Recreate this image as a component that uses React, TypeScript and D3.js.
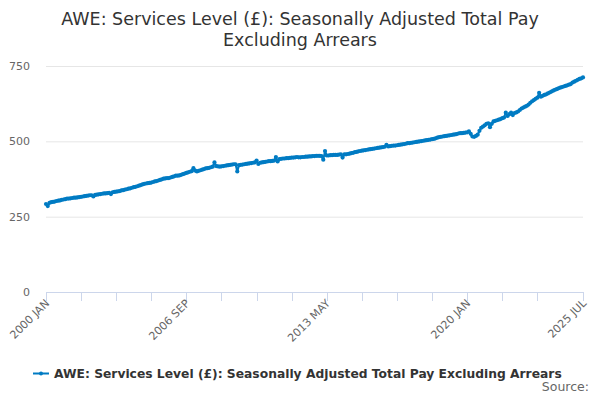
import { useEffect, useRef } from "react";
import * as d3 from "d3";

const TITLE_LINES = [
  "AWE: Services Level (£): Seasonally Adjusted Total Pay",
  "Excluding Arrears",
];
const SERIES_NAME = "AWE: Services Level (£): Seasonally Adjusted Total Pay Excluding Arrears";

const MONTHS = ["JAN", "FEB", "MAR", "APR", "MAY", "JUN", "JUL", "AUG", "SEP", "OCT", "NOV", "DEC"];
const START_YEAR = 2000;

// monthly values, one row per year (2000 JAN .. 2025 JUL)
const VALUES_BY_YEAR: number[][] = [
  [292, 285, 296, 298, 299, 300, 302, 303, 304, 306, 307, 308],
  [310, 310, 311, 312, 313, 313, 314, 315, 316, 317, 318, 319],
  [320, 321, 321, 317, 322, 323, 324, 325, 326, 327, 327, 328],
  [329, 325, 331, 332, 333, 334, 335, 337, 338, 340, 341, 343],
  [344, 346, 348, 349, 351, 353, 355, 357, 359, 360, 361, 362],
  [363, 365, 367, 368, 370, 372, 374, 376, 377, 378, 378, 380],
  [382, 384, 386, 386, 387, 389, 391, 393, 395, 397, 399, 401],
  [411, 403, 400, 402, 404, 406, 408, 410, 411, 412, 414, 416],
  [430, 418, 417, 416, 417, 418, 419, 420, 421, 422, 423, 424],
  [424, 400, 421, 422, 423, 424, 425, 426, 427, 428, 429, 430],
  [436, 425, 429, 430, 431, 432, 433, 434, 434, 435, 436, 448],
  [433, 441, 442, 443, 443, 444, 444, 445, 446, 446, 447, 448],
  [447, 447, 448, 448, 449, 449, 450, 450, 451, 451, 452, 452],
  [452, 451, 439, 468, 453, 453, 454, 454, 455, 455, 455, 456],
  [457, 446, 457, 457, 458, 459, 461, 462, 464, 465, 467, 468],
  [469, 470, 471, 472, 473, 474, 475, 476, 477, 478, 479, 480],
  [481, 482, 488, 483, 484, 485, 486, 486, 487, 488, 489, 490],
  [491, 492, 494, 494, 495, 496, 497, 498, 499, 500, 501, 502],
  [503, 504, 505, 506, 507, 508, 510, 512, 514, 515, 516, 517],
  [518, 519, 520, 521, 522, 523, 524, 526, 527, 527, 528, 529],
  [530, 533, 525, 516, 515, 518, 522, 535, 545, 549, 553, 558],
  [560, 547, 558, 566, 568, 570, 572, 574, 577, 579, 595, 584],
  [590, 595, 587, 594, 596, 599, 604, 609, 612, 615, 618, 622],
  [628, 633, 637, 641, 645, 661, 648, 651, 654, 656, 659, 662],
  [665, 668, 671, 673, 676, 678, 680, 682, 684, 686, 688, 690],
  [695, 698, 701, 704, 707, 709, 712],
];

const Y_TICKS = [0, 250, 500, 750];

const LINE_COLOR = "#007bc3";
const FONT = "'DejaVu Sans', Verdana, sans-serif";

export default function App() {
  const svgRef = useRef<SVGSVGElement>(null);

  useEffect(() => {
    if (!svgRef.current) return;
    const svg = d3.select(svgRef.current);
    svg.selectAll("*").remove();

    const width = 600;
    const height = 400;
    const margin = { top: 66, right: 17, bottom: 108, left: 46 };

    const data = VALUES_BY_YEAR.flatMap((row, yi) =>
      row.map((value, mi) => ({ label: `${START_YEAR + yi} ${MONTHS[mi]}`, value }))
    );
    const n = data.length;

    const x = d3.scaleLinear().domain([0, n - 1]).range([margin.left, width - margin.right]);
    const y = d3.scaleLinear().domain([0, 750]).range([height - margin.bottom, margin.top]);

    // title
    svg.append("text")
      .attr("x", 300)
      .attr("text-anchor", "middle")
      .style("font-family", FONT)
      .style("font-size", "17.5px")
      .style("fill", "#333333")
      .selectAll("tspan")
      .data(TITLE_LINES)
      .enter()
      .append("tspan")
      .attr("x", 300)
      .attr("y", (d, i) => 25 + i * 21)
      .text(d => d);

    // gridlines + y labels
    const yAxis = svg.append("g");
    yAxis.selectAll("line")
      .data(Y_TICKS.filter(t => t > 0))
      .enter()
      .append("line")
      .attr("x1", margin.left)
      .attr("x2", width - margin.right)
      .attr("y1", d => y(d) + 0.5)
      .attr("y2", d => y(d) + 0.5)
      .attr("stroke", "#e6e6e6")
      .attr("stroke-width", 1);

    yAxis.selectAll("text")
      .data(Y_TICKS)
      .enter()
      .append("text")
      .attr("x", 30)
      .attr("y", d => y(d) + 4)
      .attr("text-anchor", "end")
      .style("font-family", FONT)
      .style("font-size", "11px")
      .style("fill", "#666666")
      .text(d => d);

    // x axis
    const tickIdx = d3.range(0, n, 20).filter(i => n - 1 - i > 10).concat([n - 1]);
    const labelIdx = [0, 80, 160, 240, n - 1];

    const xAxis = svg.append("g");
    xAxis.append("line")
      .attr("x1", margin.left)
      .attr("x2", width - margin.right)
      .attr("y1", y(0) + 0.5)
      .attr("y2", y(0) + 0.5)
      .attr("stroke", "#ccd6eb");

    xAxis.selectAll(".tick")
      .data(tickIdx)
      .enter()
      .append("line")
      .attr("class", "tick")
      .attr("x1", d => Math.round(x(d)) + 0.5)
      .attr("x2", d => Math.round(x(d)) + 0.5)
      .attr("y1", y(0))
      .attr("y2", y(0) + 9)
      .attr("stroke", "#ccd6eb");

    xAxis.selectAll(".lab")
      .data(labelIdx)
      .enter()
      .append("text")
      .attr("class", "lab")
      .attr("text-anchor", "end")
      .attr("transform", d => `translate(${x(d) + 4},${y(0) + 12}) rotate(-45)`)
      .style("font-family", FONT)
      .style("font-size", "11px")
      .style("fill", "#666666")
      .text(d => data[d].label);

    // series
    const line = d3.line<{ label: string; value: number }>()
      .x((d, i) => x(i))
      .y(d => y(d.value));

    svg.append("path")
      .datum(data)
      .attr("fill", "none")
      .attr("stroke", LINE_COLOR)
      .attr("stroke-width", 2)
      .attr("stroke-linejoin", "round")
      .attr("d", line);

    svg.append("g")
      .selectAll("circle")
      .data(data)
      .enter()
      .append("circle")
      .attr("cx", (d, i) => x(i))
      .attr("cy", d => y(d.value))
      .attr("r", 2.1)
      .attr("fill", LINE_COLOR);

    // legend
    const legend = svg.append("g");
    legend.append("line")
      .attr("x1", 33)
      .attr("x2", 49)
      .attr("y1", 373.5)
      .attr("y2", 373.5)
      .attr("stroke", LINE_COLOR)
      .attr("stroke-width", 2);
    legend.append("circle")
      .attr("cx", 41)
      .attr("cy", 373.5)
      .attr("r", 2)
      .attr("fill", LINE_COLOR);
    legend.append("text")
      .attr("x", 54)
      .attr("y", 377.5)
      .style("font-family", FONT)
      .style("font-size", "12.3px")
      .style("font-weight", "bold")
      .style("fill", "#333333")
      .text(SERIES_NAME);

    svg.append("text")
      .attr("x", 589)
      .attr("y", 391)
      .attr("text-anchor", "end")
      .style("font-family", FONT)
      .style("font-size", "12.5px")
      .style("fill", "#666666")
      .text("Source:");
  }, []);

  return (
    <div style={{ position: "absolute", left: 0, top: 0, width: 600, height: 400, background: "#ffffff" }}>
      <svg ref={svgRef} width={600} height={400}></svg>
    </div>
  );
}
